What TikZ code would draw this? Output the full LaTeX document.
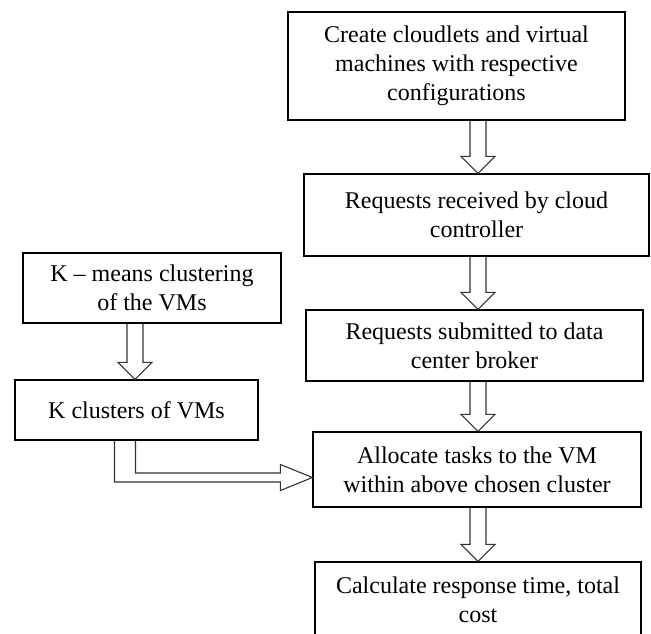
\documentclass[tikz,border=0pt]{standalone}
\usepackage{fontspec}
\setmainfont{Liberation Serif}
\usetikzlibrary{calc}

% hollow block arrow from the bottom of #1 to the top of #2, on the column of #3
\newcommand{\hollowdown}[3]{%
  \draw[hollow] ($(#1.south -| #3)+(-8,0)$) -- ($(#2.north -| #3)+(-8,17)$) -- ++(-9,0)
    -- (#2.north -| #3) -- ($(#2.north -| #3)+(17,17)$) -- ++(-9,0) -- ($(#1.south -| #3)+(8,0)$);}

\begin{document}
\begin{tikzpicture}[x=1pt, y=1pt,
  box/.style={draw, line width=1.2pt, inner sep=0pt, align=center,
    font=\fontsize{24}{29}\selectfont},
  hollow/.style={draw=black!80, line width=1.1pt, line join=miter}]

\useasboundingbox (0,0) rectangle (651,-633);
\clip (0,0) rectangle (651,-633);

% Main chain on the right
\node[box, minimum width=337, minimum height=108] (create) at (456.5,-66)
  {Create cloudlets and virtual\\machines with respective\\configurations};
\node[box, minimum width=345, minimum height=82] (recv) at (476.5,-215)
  {Requests received by cloud\\controller};
\node[box, minimum width=337, minimum height=71] (broker) at (474.5,-345.5)
  {Requests submitted to data\\center broker};
\node[box, minimum width=328, minimum height=75] (alloc) at (477,-469.5)
  {Allocate tasks to the VM\\within above chosen cluster};
\node[box, minimum width=326, minimum height=75] (calc) at (478,-599.5)
  {Calculate response time, total\\cost};

% Clustering on the left
\node[box, minimum width=258, minimum height=70] (kmeans) at (152,-288)
  {K – means clustering\\of the VMs};
\node[box, minimum width=243, minimum height=60] (kclus) at (136.5,-410)
  {K clusters of VMs};

\coordinate (rcol) at (478,0);
\coordinate (lcol) at (135,0);

\hollowdown{create}{recv}{rcol}
\hollowdown{recv}{broker}{rcol}
\hollowdown{broker}{alloc}{rcol}
\hollowdown{alloc}{calc}{rcol}
\hollowdown{kmeans}{kclus}{lcol}

% elbow arrow into the allocation step
\coordinate (tip) at (alloc.west |- 0,-477.5);
\draw[hollow] ([xshift=-22]kclus.south) |- ($(tip)+(-32,-4.5)$) -- ++(0,-8.5) -- (tip)
  -- ($(tip)+(-32,13)$) -- ++(0,-8.5) -| ([xshift=-1]kclus.south);
\end{tikzpicture}
\end{document}
